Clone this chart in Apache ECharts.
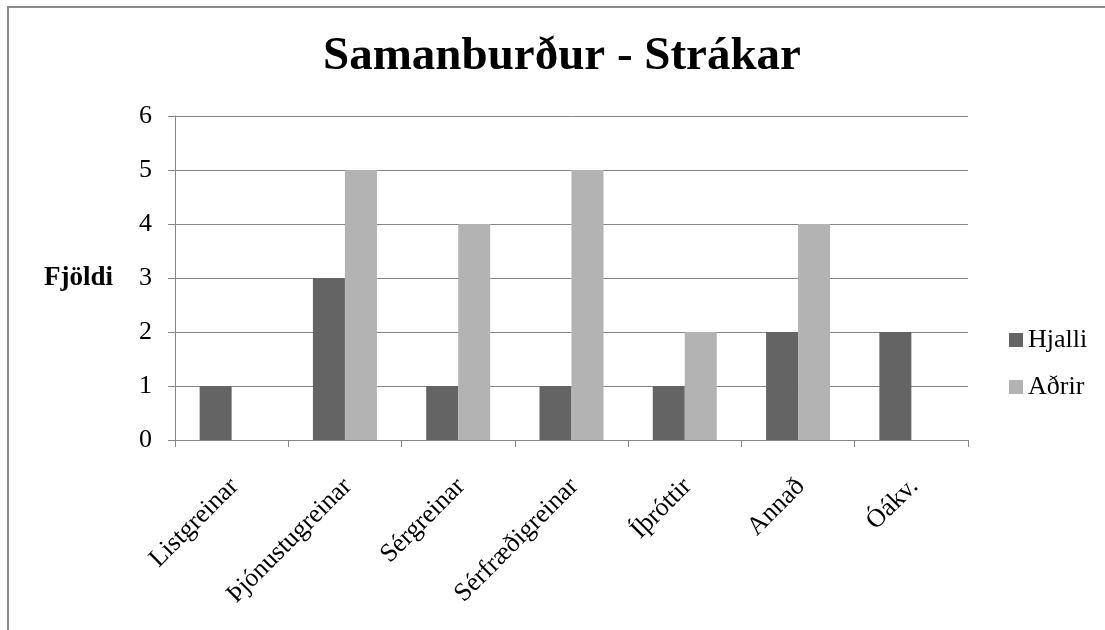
<!DOCTYPE html>
<html>
<head>
<meta charset="utf-8">
<script src="https://cdn.jsdelivr.net/npm/echarts@6/dist/echarts.min.js"></script>
<style>html,body{margin:0;padding:0;background:#fff}#c{width:1105px;height:630px}</style>
</head>
<body>
<div id="c"></div>
<script>
var categories = ['Listgreinar', 'Þjónustugreinar', 'Sérgreinar', 'Sérfræðigreinar', 'Íþróttir', 'Annað', 'Óákv.'];
var hjalli = [1, 3, 1, 1, 1, 2, 2];
var adrir = [null, 5, 4, 5, 2, 4, null];
var yTicks = [0, 1, 2, 3, 4, 5, 6];
var titleText = 'Samanburður - Strákar';
var yName = 'Fjöldi';

var FONT = "'Liberation Serif', 'Times New Roman', serif";
var chart = echarts.init(document.getElementById('c'));
chart.setOption({
  animation: false,
  backgroundColor: '#fff',
  graphic: [{
    type: 'rect', silent: true,
    shape: { x: 8, y: 7, width: 1300, height: 800 },
    style: { fill: 'none', stroke: '#8a8a8a', lineWidth: 2 }
  }],
  title: {
    text: titleText, left: 557, top: 28, textAlign: 'center',
    textStyle: { fontFamily: FONT, fontWeight: 'bold', fontSize: 47, color: '#000' }
  },
  legend: {
    orient: 'vertical', left: 1009, top: 327, padding: 0,
    itemWidth: 14, itemHeight: 14, itemGap: 21,
    icon: 'rect',
    textStyle: { fontFamily: FONT, fontSize: 26, color: '#000' },
    data: ['Hjalli', 'Aðrir']
  },
  grid: { left: 175, right: 137, top: 116, bottom: 190, containLabel: false },
  xAxis: {
    type: 'category', data: categories,
    axisLine: { lineStyle: { color: '#868686', width: 1 } },
    axisTick: { show: true, length: 7, lineStyle: { color: '#868686' } },
    axisLabel: {
      rotate: 45, margin: 27, verticalAlign: 'top', align: 'right',
      padding: [0, 9, 0, 0],
      fontFamily: FONT, fontSize: 26, color: '#000', interval: 0
    }
  },
  yAxis: {
    type: 'value', min: 0, max: 6, interval: 1,
    name: yName, nameLocation: 'middle', nameRotate: 0, nameGap: 62,
    nameTextStyle: { fontFamily: FONT, fontSize: 27, fontWeight: 'bold', color: '#000' },
    axisLine: { show: true, lineStyle: { color: '#868686', width: 1 } },
    axisTick: { show: true, length: 7, lineStyle: { color: '#868686' } },
    splitLine: { show: true, lineStyle: { color: '#868686', width: 1 } },
    axisLabel: {
      margin: 23, fontFamily: FONT, fontSize: 26, color: '#000',
      formatter: function (v) { return yTicks.indexOf(v) >= 0 ? String(v) : ''; }
    }
  },
  series: [
    { name: 'Hjalli', type: 'bar', data: hjalli, barWidth: 32, barGap: '0%',
      itemStyle: { color: '#646464' } },
    { name: 'Aðrir', type: 'bar', data: adrir, barWidth: 32, barGap: '0%',
      itemStyle: { color: '#b3b3b3' } }
  ]
});
</script>
</body>
</html>
